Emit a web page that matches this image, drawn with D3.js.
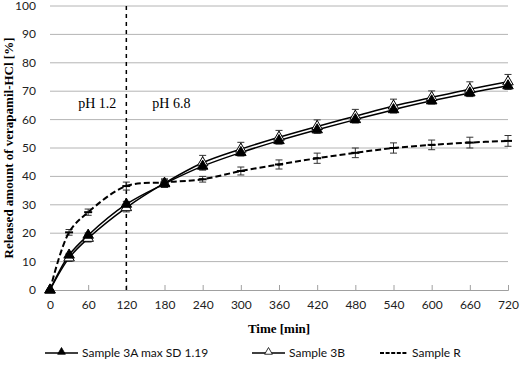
<!DOCTYPE html>
<html>
<head>
<meta charset="utf-8">
<script src="https://cdnjs.cloudflare.com/ajax/libs/d3/7.8.5/d3.min.js"></script>
<style>
body { margin: 0; background: #fff; }
svg { display: block; }
</style>
</head>
<body>
<div id="chart"></div>
<script>
var times = [0, 30, 60, 120, 180, 240, 300, 360, 420, 480, 540, 600, 660, 720];
var s3A = [0, 12.3, 19.3, 30.2, 37.4, 43.6, 48.4, 52.6, 56.4, 60.0, 63.5, 66.6, 69.4, 71.9];
var s3Asd = [0, 0.6, 0.8, 1.0, 1.1, 1.0, 1.1, 1.1, 1.19, 1.0, 1.1, 1.0, 1.1, 1.2];
var s3B = [0, 11.3, 18.2, 29.0, 37.6, 44.8, 49.6, 53.8, 57.6, 61.2, 64.8, 67.8, 70.7, 73.3];
var s3Bsd = [0, 1.2, 1.3, 1.5, 1.5, 2.6, 2.4, 2.4, 2.3, 2.4, 2.4, 2.3, 2.6, 2.6];
var sR = [0, 20.3, 27.4, 36.6, 37.9, 39.0, 41.9, 44.2, 46.4, 48.3, 50.0, 51.1, 51.9, 52.5];
var sRsd = [0, 1.0, 1.1, 1.4, 1.1, 1.0, 1.4, 1.6, 1.8, 1.7, 1.8, 1.7, 1.9, 1.9];
var xTicks = [0, 60, 120, 180, 240, 300, 360, 420, 480, 540, 600, 660, 720];
var yTicks = [0, 10, 20, 30, 40, 50, 60, 70, 80, 90, 100];
var phaseChange = 120;

var W = 520, H = 369;
var margin = {top: 6, right: 12, bottom: 79, left: 50};
var width = W - margin.left - margin.right,
	height = H - margin.top - margin.bottom;

var svg = d3.select("#chart").append("svg")
	.attr("width", W)
	.attr("height", H);

var g = svg.append("g")
	.attr("transform", "translate(" + margin.left + "," + margin.top + ")");

var x = d3.scaleLinear().domain([0, 720]).range([0, width]);
var y = d3.scaleLinear().domain([0, 100]).range([height, 0]);

// horizontal gridlines
g.selectAll(".grid")
	.data(yTicks.filter(function(d){ return d > 0; }))
	.enter().append("line")
	.attr("x1", 0).attr("x2", width)
	.attr("y1", function(d){ return y(d); })
	.attr("y2", function(d){ return y(d); })
	.style("stroke", "#b4b4b4")
	.style("stroke-width", 1);

// y labels
g.selectAll(".ylab")
	.data(yTicks)
	.enter().append("text")
	.attr("x", -14)
	.attr("y", function(d){ return y(d) + 4; })
	.style("text-anchor", "end")
	.style("font-family", "Lato, 'Open Sans', sans-serif")
	.style("font-size", "12px")
	.style("fill", "#222")
	.text(function(d){ return d; });

// x axis
var xAxis = d3.axisBottom(x).tickValues(xTicks).tickSize(-5).tickPadding(10);
var xg = g.append("g")
	.attr("transform", "translate(0," + height + ")")
	.call(xAxis);
xg.select(".domain").style("stroke", "#a0a0a0");
xg.selectAll(".tick line").style("stroke", "#a0a0a0");
xg.selectAll(".tick text")
	.style("font-family", "Lato, 'Open Sans', sans-serif")
	.style("font-size", "12px")
	.style("fill", "#222");

// phase line
g.append("line")
	.attr("x1", x(phaseChange)).attr("x2", x(phaseChange))
	.attr("y1", 0).attr("y2", height)
	.style("stroke", "#000")
	.style("stroke-width", 1.5)
	.style("stroke-dasharray", "4,4");

g.append("text")
	.attr("x", x(phaseChange) - 10)
	.attr("y", 102)
	.style("text-anchor", "end")
	.style("font-family", "'Liberation Serif', serif")
	.style("font-size", "14px")
	.text("pH 1.2");
g.append("text")
	.attr("x", x(phaseChange) + 26)
	.attr("y", 102)
	.style("font-family", "'Liberation Serif', serif")
	.style("font-size", "14px")
	.text("pH 6.8");

var line = d3.line()
	.x(function(d){ return x(d[0]); })
	.y(function(d){ return y(d[1]); })
	.curve(d3.curveCatmullRom.alpha(0.5));

function pts(vals){
	return times.map(function(t, i){ return [t, vals[i]]; });
}

function errorBars(vals, sd, col){
	var eb = g.append("g");
	times.forEach(function(t, i){
		if(sd[i] <= 0) return;
		var cx = x(t), y1 = y(vals[i] - sd[i]), y2 = y(vals[i] + sd[i]);
		eb.append("line").attr("x1", cx).attr("x2", cx).attr("y1", y1).attr("y2", y2)
			.style("stroke", col).style("stroke-width", 1);
		[y1, y2].forEach(function(yy){
			eb.append("line").attr("x1", cx - 3.5).attr("x2", cx + 3.5).attr("y1", yy).attr("y2", yy)
				.style("stroke", col).style("stroke-width", 1);
		});
	});
}

// Sample R
errorBars(sR, sRsd, "#333");
g.append("path")
	.datum(pts(sR))
	.attr("d", line)
	.style("fill", "none")
	.style("stroke", "#000")
	.style("stroke-width", 2)
	.style("stroke-dasharray", "6,3");
g.selectAll(".rmark")
	.data(pts(sR))
	.enter().append("line")
	.attr("x1", function(d){ return x(d[0]) - 4; })
	.attr("x2", function(d){ return x(d[0]) + 4; })
	.attr("y1", function(d){ return y(d[1]); })
	.attr("y2", function(d){ return y(d[1]); })
	.style("stroke", "#000")
	.style("stroke-width", 2);

// Sample 3B
errorBars(s3B, s3Bsd, "#333");
g.append("path")
	.datum(pts(s3B))
	.attr("d", line)
	.style("fill", "none")
	.style("stroke", "#000")
	.style("stroke-width", 1.5);

// Sample 3A
errorBars(s3A, s3Asd, "#333");
g.append("path")
	.datum(pts(s3A))
	.attr("d", line)
	.style("fill", "none")
	.style("stroke", "#000")
	.style("stroke-width", 1.5);

var tri = d3.symbol().type(d3.symbolTriangle).size(48);

g.selectAll(".m3b")
	.data(pts(s3B))
	.enter().append("path")
	.attr("d", tri)
	.attr("transform", function(d){ return "translate(" + x(d[0]) + "," + y(d[1]) + ")"; })
	.style("fill", "#fff")
	.style("stroke", "#000")
	.style("stroke-width", 1);

g.selectAll(".m3a")
	.data(pts(s3A))
	.enter().append("path")
	.attr("d", tri)
	.attr("transform", function(d){ return "translate(" + x(d[0]) + "," + y(d[1]) + ")"; })
	.style("fill", "#000")
	.style("stroke", "#000")
	.style("stroke-width", 1);

// axis titles
svg.append("text")
	.attr("transform", "translate(13," + (margin.top + height / 2) + ") rotate(-90)")
	.style("text-anchor", "middle")
	.style("font-family", "'Liberation Serif', serif")
	.style("font-weight", "bold")
	.style("font-size", "13px")
	.text("Released amount of verapamil-HCl [%]");

svg.append("text")
	.attr("x", margin.left + width / 2)
	.attr("y", 333)
	.style("text-anchor", "middle")
	.style("font-family", "'Liberation Serif', serif")
	.style("font-weight", "bold")
	.style("font-size", "13px")
	.text("Time [min]");

// legend
var ly = 353;
var legend = svg.append("g");
var legItems = [
	{name: "Sample 3A max SD 1.19", x0: 45, x1: 78, marker: "filled", dash: null},
	{name: "Sample 3B", x0: 252, x1: 285, marker: "open", dash: null},
	{name: "Sample R", x0: 380, x1: 408, marker: null, dash: "4,1.6"}
];
legItems.forEach(function(it){
	legend.append("line")
		.attr("x1", it.x0).attr("x2", it.x1)
		.attr("y1", ly).attr("y2", ly)
		.style("stroke", "#000")
		.style("stroke-width", it.dash ? 2 : 1.3)
		.style("stroke-dasharray", it.dash);
	if(it.marker){
		legend.append("path")
			.attr("d", d3.symbol().type(d3.symbolTriangle).size(26))
			.attr("transform", "translate(" + ((it.x0 + it.x1) / 2) + "," + (ly - 1) + ")")
			.style("fill", it.marker == "filled" ? "#000" : "#fff")
			.style("stroke", "#000")
			.style("stroke-width", 0.8);
	}
	legend.append("text")
		.attr("x", it.x1 + 4)
		.attr("y", ly + 4)
		.style("font-family", "Lato, 'Open Sans', sans-serif")
		.style("font-size", "12px")
		.style("fill", "#111")
		.text(it.name);
});
</script>
</body>
</html>
